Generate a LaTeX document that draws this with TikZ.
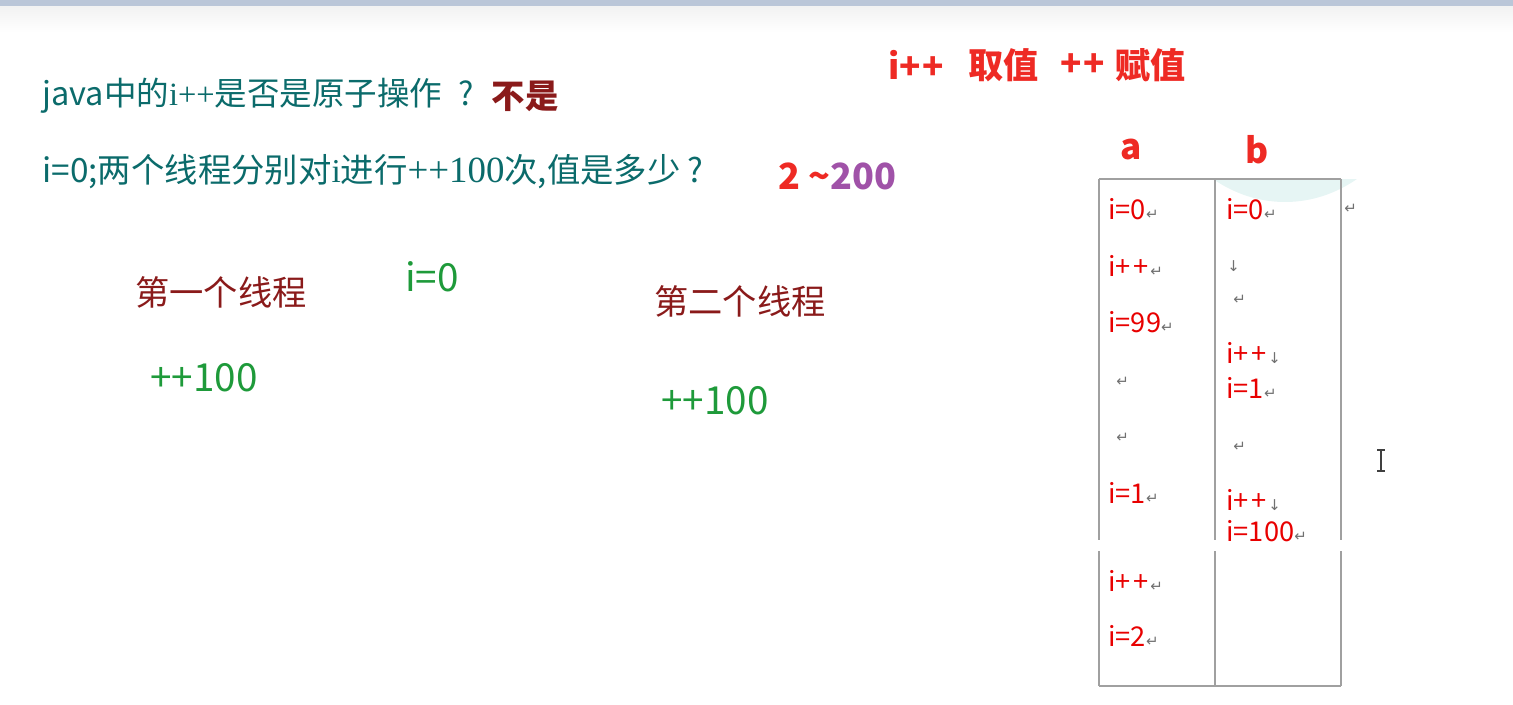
\documentclass[tikz,border=0pt]{standalone}
\usepackage{fontspec}
\setmainfont{Noto Sans CJK SC}
\newfontfamily\serifpart{Liberation Serif}
\newfontfamily\markfont{DejaVu Sans}
\usetikzlibrary{positioning}

\definecolor{tealtxt}{HTML}{0B6B6B}
\definecolor{darkred}{HTML}{8A1A1A}
\definecolor{greentxt}{HTML}{1E9A3A}
\definecolor{redtxt}{HTML}{EE2A24}
\definecolor{purpletxt}{HTML}{A052A8}
\definecolor{cellred}{HTML}{E80000}
\definecolor{rulegray}{HTML}{A0A0A0}
\definecolor{markgray}{HTML}{707070}
\definecolor{topbar}{HTML}{BAC6D8}
\definecolor{glow}{HTML}{E6F5F4}

% paragraph and line-break marks of the table
\newcommand{\retmark}{{\markfont\fontsize{8.5}{8.5}\selectfont\color{markgray}↵}}
\newcommand{\brkmark}{{\markfont\fontsize{8.5}{8.5}\selectfont\color{markgray}↓}}
\newcommand{\incr}{i+\kern1.5pt+\kern1pt}

\begin{document}
\begin{tikzpicture}[
  x=0.02cm, y=-0.02cm,
  every node/.style={inner sep=0pt, anchor=west},
  ques/.style={text=tealtxt, font=\fontsize{18.5}{20}\selectfont},
  ans/.style={text=darkred, font=\fontsize{19}{20}\selectfont\bfseries},
  thread/.style={text=darkred, font=\fontsize{19.5}{20}\selectfont},
  val/.style={text=greentxt, font=\fontsize{22}{24}\selectfont},
  head/.style={text=redtxt, font=\fontsize{20}{22}\selectfont\bfseries},
  cell/.style={text=cellred, font=\fontsize{15.5}{16}\selectfont},
  tab/.style={draw=rulegray, line width=0.8pt}]

\useasboundingbox (0,0) rectangle (1513,705);
\fill[topbar] (0,0) rectangle (1513,7);
\shade[top color=gray!10, bottom color=white] (0,7) rectangle (1513,32);

% Questions
\node[ques] (q1) at (42,96) {java中的{\serifpart i++}是否是原子操作\hspace{0.5em}?};
\node[ans, right=0.34cm of q1] (no) {不是};
\node[ques, font=\fontsize{19}{20}\selectfont] (q2) at (42,172)
  {i=0;两个线程分别对{\serifpart i}进行{\serifpart\fontsize{21}{22}\selectfont ++100}次,值是多少\hspace{0.2em}?};
\node[head, font=\fontsize{20.5}{22}\selectfont\bfseries] (range) at (778,176)
  {2 \textasciitilde{\color{purpletxt}200}};

% Note on i++
\node[head] (h1) at (888,65) {i+\kern1pt+};
\node[head] (h2) at (968,65) {取值};
\node[head] (h3) at (1060,65) {+\kern1pt+};
\node[head] (h4) at (1115,65) {赋值};

% Threads
\node[thread] (t1) at (135,292) {第一个线程};
\node[val] (init) at (405,277) {i=0};
\node[thread] (t2) at (654,301) {第二个线程};
\node[val] (n1) at (150,378) {++100};
\node[val] (n2) at (661,401) {++100};

% Table
\begin{scope}
  \clip (1216,180) rectangle (1365,215);
  \fill[glow] (1285,40) ellipse (140 and 162);
\end{scope}
\node[head] (ca) at (1120,150) {a};
\node[head] (cb) at (1245,150) {b};
\draw[tab] (1099,179) -- (1341,179);
\draw[tab] (1099,686) -- (1341,686);
\foreach \x in {1099,1215,1341} {
  \draw[tab] (\x,179) -- (\x,540);
  \draw[tab] (\x,551) -- (\x,686);
}

% Column a
\node[cell] (a1) at (1108,209) {i=0\retmark};
\node[cell] (a2) at (1108,266) {\incr\retmark};
\node[cell] (a3) at (1108,322) {i=99\retmark};
\node[cell] (a4) at (1116,382) {\retmark};
\node[cell] (a5) at (1116,438) {\retmark};
\node[cell] (a6) at (1108,493) {i=1\retmark};
\node[cell] (a7) at (1108,581) {\incr\retmark};
\node[cell] (a8) at (1108,636) {i=2\retmark};

% Column b
\node[cell] (b1) at (1226,209) {i=0\retmark};
\node[cell] (b2) at (1227,266) {\brkmark};
\node[cell] (b3) at (1233,300) {\retmark};
\node[cell] (b4) at (1226,353) {\incr\brkmark};
\node[cell] (b5) at (1226,388) {i=1\retmark};
\node[cell] (b6) at (1233,447) {\retmark};
\node[cell] (b7) at (1226,500) {\incr\brkmark};
\node[cell] (b8) at (1226,531) {i=100\retmark};
\node[cell] (rm) at (1344,209) {\retmark};

% Text cursor
\draw[black!75, line width=0.9pt] (1381,451) -- (1381,470)
  (1377,450) -- (1385,450) (1377,471) -- (1385,471);
\end{tikzpicture}
\end{document}
